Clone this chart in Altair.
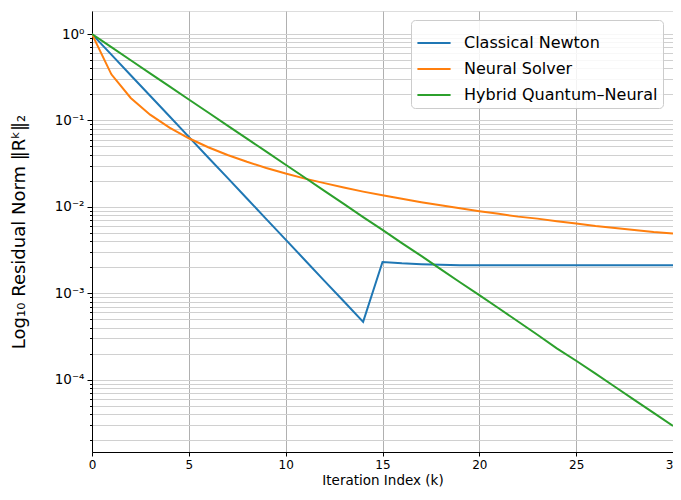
import altair as alt
import pandas as pd

iters = list(range(31))
newton = [1.0, 0.578, 0.334, 0.193, 0.1117, 0.0646, 0.0373, 0.0216, 0.0125, 0.0072,
          0.00417, 0.00241, 0.00139, 0.000806, 0.000466, 0.0023, 0.00222, 0.00217,
          0.00213, 0.00211, 0.0021, 0.0021, 0.0021, 0.0021, 0.0021, 0.0021, 0.0021,
          0.0021, 0.0021, 0.0021, 0.0021]
neural = [1.0, 0.342, 0.182, 0.1166, 0.0825, 0.0622, 0.0490, 0.0398, 0.0332, 0.0282,
          0.0243, 0.0212, 0.0188, 0.0167, 0.0150, 0.0136, 0.0124, 0.0113, 0.0104,
          0.0096, 0.0089, 0.0083, 0.0077, 0.0073, 0.0068, 0.0064, 0.0060, 0.0057,
          0.0054, 0.0051, 0.0049]
hybrid = [1.0, 0.706, 0.498, 0.351, 0.248, 0.175, 0.1236, 0.0872, 0.0616, 0.0435,
          0.0307, 0.0217, 0.0153, 0.0108, 0.0076, 0.0054, 0.0038, 0.0027, 0.0019,
          0.00134, 0.00095, 0.00067, 0.00047, 0.00033, 0.00023, 0.000165, 0.000117,
          0.0000825, 0.0000582, 0.0000411, 0.000029]
series_names = ["Classical Newton", "Neural Solver", "Hybrid Quantum–Neural"]
colors = ["#1f77b4", "#ff7f0e", "#2ca02c"]
x_ticks = [0, 5, 10, 15, 20, 25, 30]

rows = []
for name, vals in zip(series_names, [newton, neural, hybrid]):
    for k, v in zip(iters, vals):
        rows.append({"k": k, "r": v, "series": name})
df = pd.DataFrame(rows)

y_vals = [m * 10.0 ** n for n in range(-5, 1) for m in range(1, 10)]
y_vals = [v for v in y_vals if 1.45e-5 <= v <= 1.85]

e = "round(log(datum.value)/LN10)"
major = f"abs(log(datum.value)/LN10 - {e}) < 1e-6"
label_expr = (f"{major} ? ({e}==0 ? '10⁰' : {e}==-1 ? '10⁻¹' : {e}==-2 ? '10⁻²' : "
              f"{e}==-3 ? '10⁻³' : {e}==-4 ? '10⁻⁴' : {e}==-5 ? '10⁻⁵' : '') : ''")

font = "DejaVu Sans"

chart = alt.Chart(df).mark_line(strokeWidth=2, clip=True).encode(
    x=alt.X("k:Q", scale=alt.Scale(domain=[0, 30], nice=False, zero=False),
            axis=alt.Axis(values=x_ticks, title="Iteration Index (k)", grid=True,
                          gridColor="#b0b0b0", gridWidth=1, labelFontSize=12,
                          titleFontSize=13.5, titleFontWeight="normal", labelFont=font,
                          titleFont=font, labelColor="#000", titleColor="#000",
                          tickColor="#000", domainColor="#000", tickSize=4,
                          labelPadding=3, titlePadding=3, labelFlush=False)),
    y=alt.Y("r:Q", scale=alt.Scale(type="log", domain=[1.45e-5, 1.85], nice=False),
            axis=alt.Axis(values=y_vals, labelExpr=label_expr,
                          title="Log₁₀ Residual Norm ‖Rᵏ‖₂", grid=True,
                          gridColor="#d0d0d0", gridWidth=1, labelFontSize=13.5,
                          titleFontSize=18, titleFontWeight="normal", labelFont=font,
                          titleFont=font, labelColor="#000", titleColor="#000",
                          tickColor="#000", domainColor="#000",
                          tickSize={"condition": {"test": major, "value": 5}, "value": 2.5},
                          labelPadding=3, titlePadding=26, labelFlush=False)),
    color=alt.Color("series:N", scale=alt.Scale(domain=series_names, range=colors),
                    sort=series_names,
                    legend=alt.Legend(title=None, orient="none", legendX=319, legendY=9,
                                      labelFontSize=16, labelFont=font, labelColor="#000",
                                      labelLimit=400,
                                      symbolType="stroke", symbolSize=1100,
                                      symbolStrokeWidth=2, padding=5, rowPadding=0,
                                      fillColor="rgba(255,255,255,0.85)",
                                      strokeColor="#cccccc", cornerRadius=4,
                                      labelOffset=12)),
).properties(
    width=581, height=441,
    autosize=alt.AutoSizeParams(type="none"),
    padding={"left": 84, "top": 3, "right": 0, "bottom": 38},
).configure_view(stroke="#000", strokeWidth=1).configure(background="white")

chart.save("out.html", embed_options={"renderer": "svg", "actions": False})
